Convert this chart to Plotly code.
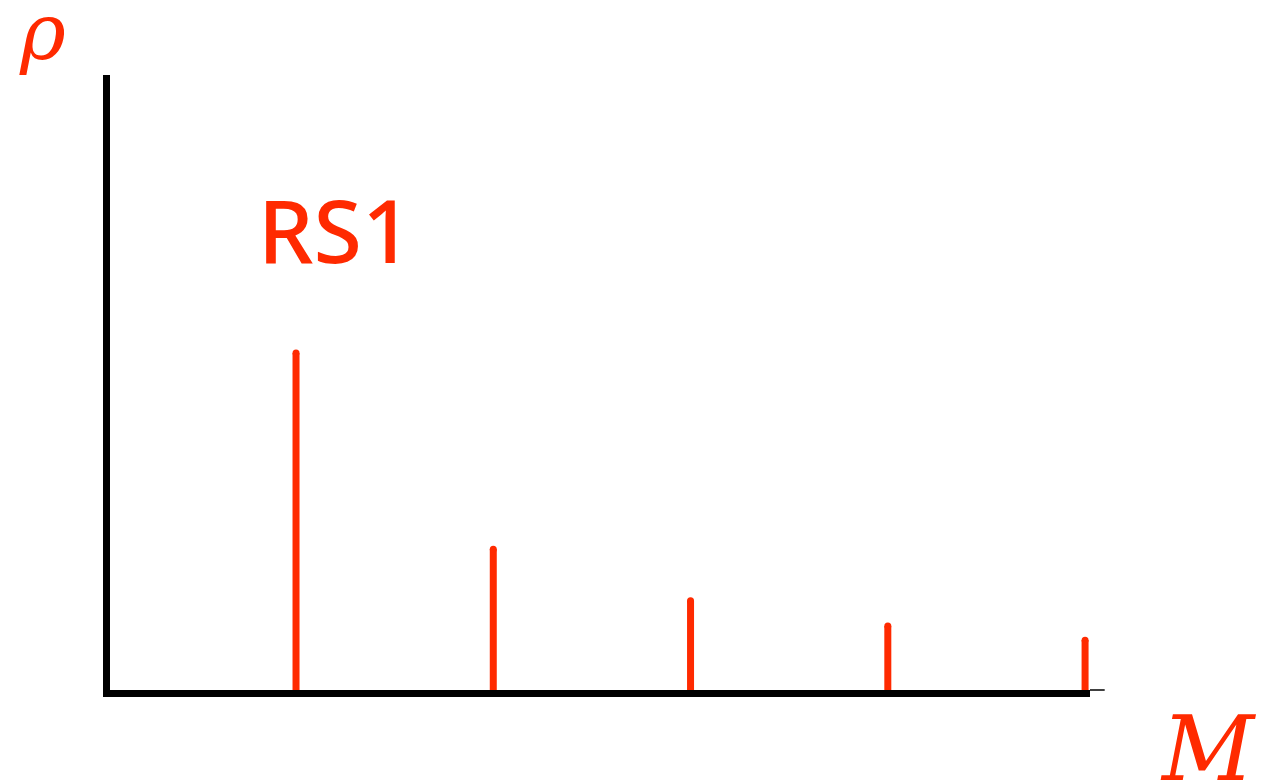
import plotly.graph_objects as go

modes = [1, 2, 3, 4, 5]
rho = [0.548, 0.229, 0.145, 0.104, 0.081]

RED = "#ff2a00"

fig = go.Figure()
xs, ys = [], []
for m, r in zip(modes, rho):
    xs += [m, m, None]
    ys += [0, r, None]
fig.add_trace(go.Scatter(x=xs, y=ys, mode="lines",
                         line=dict(color=RED, width=7), hoverinfo="skip"))
fig.add_trace(go.Scatter(x=modes, y=rho, mode="markers",
                         marker=dict(color=RED, size=7), hoverinfo="skip"))

fig.update_layout(
    width=1282, height=782,
    margin=dict(l=110, r=192, t=75, b=92),
    paper_bgcolor="white", plot_bgcolor="white",
    showlegend=False,
    xaxis=dict(range=[0.057, 5.025], showgrid=False, zeroline=False,
               showticklabels=False, ticks="", showline=True,
               linecolor="black", linewidth=7, mirror=False),
    yaxis=dict(range=[0, 1], showgrid=False, zeroline=False,
               showticklabels=False, ticks="", showline=True,
               linecolor="black", linewidth=7, mirror=False),
    annotations=[
        dict(text="<i>ρ</i>", xref="paper", yref="paper",
             x=-0.069, y=1.0, xanchor="center", yanchor="bottom", yshift=-4,
             showarrow=False, font=dict(family="DejaVu Serif", size=78, color=RED)),
        dict(text="<i>M</i>", xref="paper", yref="paper",
             x=1.12, y=0, xanchor="center", yanchor="top", yshift=-4,
             showarrow=False, font=dict(family="DejaVu Serif", size=90, color=RED)),
        dict(text="RS1", xref="x", yref="paper",
             x=1.2, y=0.75, xanchor="center", yanchor="middle",
             showarrow=False, font=dict(family="Noto Sans", size=88, color=RED, weight=500)),
    ],
    shapes=[
        dict(type="line", xref="paper", yref="paper", x0=1.0, x1=1.015, y0=0, y1=0,
             line=dict(color="black", width=1.5)),
    ],
)

fig.write_html("out.html", config={"displayModeBar": False},
               post_script="document.body.style.margin='0';document.body.style.overflow='hidden';")
